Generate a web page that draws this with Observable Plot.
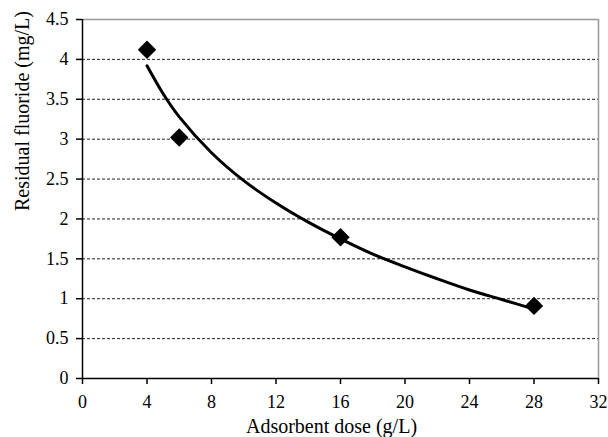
<!DOCTYPE html>
<html>
<head>
<meta charset="utf-8">
<script src="https://cdn.jsdelivr.net/npm/d3@7"></script>
<script src="https://cdn.jsdelivr.net/npm/@observablehq/plot@0.6"></script>
<style>
  html, body { margin: 0; padding: 0; background: #fff; }
  #chart svg { display: block; }
</style>
</head>
<body>
<div id="chart"></div>
<script>
// Measured residual fluoride at each adsorbent dose
const doses = [4, 6, 16, 28];
const residual = [4.12, 3.02, 1.77, 0.91];

// Logarithmic trend line through the measurements
const trendDose = [4, 5, 6, 8, 10, 12, 14, 16, 18, 20, 22, 24, 26, 28];
const trendResidual = [3.92, 3.57, 3.28, 2.83, 2.48, 2.20, 1.96, 1.75, 1.56, 1.40, 1.25, 1.11, 0.99, 0.87];

// Axis ticks
const xTicks = [0, 4, 8, 12, 16, 20, 24, 28, 32];
const yTicks = [0, 0.5, 1, 1.5, 2, 2.5, 3, 3.5, 4, 4.5];
const gridY = [0.5, 1, 1.5, 2, 2.5, 3, 3.5, 4];

const xLabel = "Adsorbent dose (g/L)";
const yLabel = "Residual fluoride (mg/L)";

const serif = "Liberation Serif";

const points = doses.map((d, i) => ({dose: d, value: residual[i]}));
const trend = trendDose.map((d, i) => ({dose: d, value: trendResidual[i]}));

const chart = Plot.plot({
  width: 608,
  height: 437,
  marginLeft: 82,
  marginRight: 10,
  marginTop: 19,
  marginBottom: 59,
  style: {fontFamily: serif, fontSize: "18px", color: "#000", background: "#fff"},
  x: {domain: [0, 32]},
  y: {domain: [0, 4.5]},
  marks: [
    // dashed horizontal gridlines
    Plot.ruleY(gridY, {stroke: "#222", strokeWidth: 1, strokeDasharray: "3,2"}),
    // light frame on top and right
    Plot.ruleY([4.5], {stroke: "#999", strokeWidth: 1.5}),
    Plot.ruleX([32], {stroke: "#999", strokeWidth: 1.5}),
    // axes
    Plot.axisX({ticks: xTicks, tickSize: 6, tickPadding: 11, tickFormat: d => String(d), label: null,
      strokeWidth: 1.5, fontFamily: serif, fontSize: 18}),
    Plot.axisY({ticks: yTicks, tickSize: 6, tickPadding: 8, tickFormat: d => String(d), label: null,
      strokeWidth: 1.5, fontFamily: serif, fontSize: 18}),
    Plot.ruleX([0], {stroke: "#000", strokeWidth: 1.5}),
    Plot.ruleY([0], {stroke: "#000", strokeWidth: 1.5}),
    // trend curve
    Plot.line(trend, {x: "dose", y: "value", stroke: "#000", strokeWidth: 3, curve: "catmull-rom"}),
    // measured points
    Plot.dot(points, {x: "dose", y: "value", symbol: "diamond2", r: 8.3, fill: "#000", stroke: "none"}),
    // axis titles
    Plot.text([xLabel], {frameAnchor: "bottom", dx: -9, dy: 48, lineAnchor: "middle", fontSize: 20, fontFamily: serif, fill: "#000"}),
    Plot.text([yLabel], {frameAnchor: "left", dx: -60, dy: 12, rotate: -90, lineAnchor: "middle", fontSize: 20, fontFamily: serif, fill: "#000"})
  ]
});

document.getElementById("chart").appendChild(chart);
</script>
</body>
</html>
